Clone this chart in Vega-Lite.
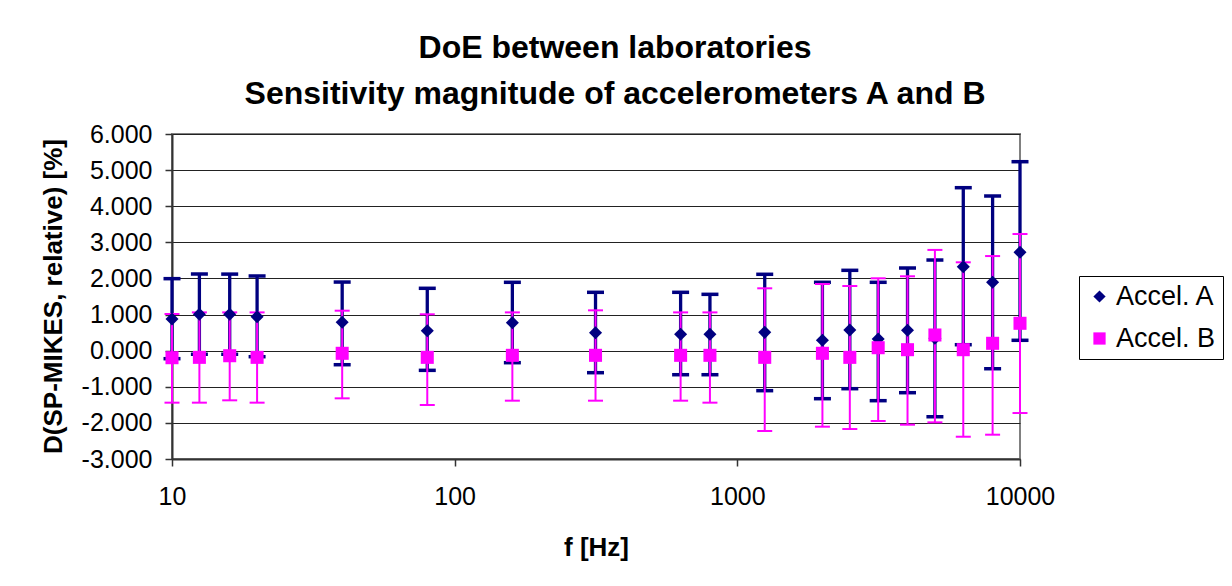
{
  "$schema": "https://vega.github.io/schema/vega-lite/v6.json",
  "width": 848,
  "height": 325,
  "autosize": {"type": "none"},
  "padding": {"left": 172, "top": 134, "right": 212, "bottom": 127},
  "background": "white",
  "title": {
    "text": ["DoE between laboratories", "Sensitivity magnitude of accelerometers A and B"],
    "font": "Liberation Sans",
    "fontSize": 32,
    "fontWeight": "bold",
    "color": "black",
    "anchor": "middle",
    "lineHeight": 46,
    "dx": 19,
    "offset": 11
  },
  "config": {
    "font": "Liberation Sans",
    "view": {"stroke": "#808080", "strokeWidth": 2},
    "tick": {"opacity": 1},
    "axis": {
      "labelFont": "Liberation Sans",
      "labelFontSize": 25,
      "labelColor": "black",
      "labelOverlap": false,
      "titleFont": "Liberation Sans",
      "titleFontSize": 26,
      "titleFontWeight": "bold",
      "titleColor": "black",
      "domainColor": "#333333",
      "domainWidth": 2,
      "tickColor": "#333333",
      "tickWidth": 1.5,
      "tickSize": 7
    },
    "legend": {
      "labelFont": "Liberation Sans",
      "labelFontSize": 27,
      "labelColor": "black"
    }
  },
  "data": {
    "values": [
      {"f": 10, "s": "Accel. A", "v": 0.877, "lo": -0.222, "hi": 1.994},
      {"f": 12.5, "s": "Accel. A", "v": 1.007, "lo": -0.1, "hi": 2.123},
      {"f": 16, "s": "Accel. A", "v": 1.007, "lo": -0.1, "hi": 2.12},
      {"f": 20, "s": "Accel. A", "v": 0.94, "lo": -0.167, "hi": 2.068},
      {"f": 40, "s": "Accel. A", "v": 0.785, "lo": -0.389, "hi": 1.9},
      {"f": 80, "s": "Accel. A", "v": 0.553, "lo": -0.545, "hi": 1.727},
      {"f": 160, "s": "Accel. A", "v": 0.775, "lo": -0.333, "hi": 1.893},
      {"f": 315, "s": "Accel. A", "v": 0.498, "lo": -0.61, "hi": 1.616},
      {"f": 630, "s": "Accel. A", "v": 0.453, "lo": -0.666, "hi": 1.616},
      {"f": 800, "s": "Accel. A", "v": 0.453, "lo": -0.666, "hi": 1.56},
      {"f": 1250, "s": "Accel. A", "v": 0.507, "lo": -1.108, "hi": 2.115},
      {"f": 2000, "s": "Accel. A", "v": 0.287, "lo": -1.33, "hi": 1.893},
      {"f": 2500, "s": "Accel. A", "v": 0.572, "lo": -1.053, "hi": 2.225},
      {"f": 3150, "s": "Accel. A", "v": 0.323, "lo": -1.385, "hi": 1.893},
      {"f": 4000, "s": "Accel. A", "v": 0.563, "lo": -1.164, "hi": 2.289},
      {"f": 5000, "s": "Accel. A", "v": 0.342, "lo": -1.83, "hi": 2.51},
      {"f": 6300, "s": "Accel. A", "v": 2.325, "lo": 0.165, "hi": 4.513},
      {"f": 8000, "s": "Accel. A", "v": 1.893, "lo": -0.5, "hi": 4.283},
      {"f": 10000, "s": "Accel. A", "v": 2.724, "lo": 0.287, "hi": 5.233},
      {"f": 10, "s": "Accel. B", "v": -0.195, "lo": -1.44, "hi": 1.015},
      {"f": 12.5, "s": "Accel. B", "v": -0.185, "lo": -1.44, "hi": 1.06},
      {"f": 16, "s": "Accel. B", "v": -0.14, "lo": -1.375, "hi": 1.06},
      {"f": 20, "s": "Accel. B", "v": -0.185, "lo": -1.44, "hi": 1.06},
      {"f": 40, "s": "Accel. B", "v": -0.073, "lo": -1.32, "hi": 1.107},
      {"f": 80, "s": "Accel. B", "v": -0.185, "lo": -1.505, "hi": 1.007},
      {"f": 160, "s": "Accel. B", "v": -0.129, "lo": -1.385, "hi": 1.06},
      {"f": 315, "s": "Accel. B", "v": -0.129, "lo": -1.385, "hi": 1.117},
      {"f": 630, "s": "Accel. B", "v": -0.129, "lo": -1.385, "hi": 1.06},
      {"f": 800, "s": "Accel. B", "v": -0.129, "lo": -1.44, "hi": 1.06},
      {"f": 1250, "s": "Accel. B", "v": -0.185, "lo": -2.225, "hi": 1.727},
      {"f": 2000, "s": "Accel. B", "v": -0.073, "lo": -2.105, "hi": 1.846},
      {"f": 2500, "s": "Accel. B", "v": -0.185, "lo": -2.17, "hi": 1.79},
      {"f": 3150, "s": "Accel. B", "v": 0.082, "lo": -1.948, "hi": 2.004},
      {"f": 4000, "s": "Accel. B", "v": 0.027, "lo": -2.05, "hi": 2.06},
      {"f": 5000, "s": "Accel. B", "v": 0.434, "lo": -1.985, "hi": 2.79},
      {"f": 6300, "s": "Accel. B", "v": 0.027, "lo": -2.383, "hi": 2.447},
      {"f": 8000, "s": "Accel. B", "v": 0.204, "lo": -2.327, "hi": 2.62},
      {"f": 10000, "s": "Accel. B", "v": 0.758, "lo": -1.727, "hi": 3.23}
    ]
  },
  "encoding": {
    "x": {
      "field": "f",
      "type": "quantitative",
      "scale": {"type": "log", "domain": [10, 10000], "nice": false},
      "axis": {
        "title": "f [Hz]",
        "values": [10, 100, 1000, 10000],
        "format": "d",
        "grid": false,
        "labelPadding": 18,
        "labelFlush": false,
        "titleBaseline": "middle",
        "titleY": 88
      }
    }
  },
  "layer": [
    {
      "transform": [{"filter": "datum.s == 'Accel. A'"}],
      "mark": {"type": "rule", "color": "#000080", "strokeWidth": 3.3},
      "encoding": {
        "y": {
          "field": "lo",
          "type": "quantitative",
          "scale": {"domain": [-3, 6], "nice": false, "zero": false},
          "axis": {
            "title": "D(SP-MIKES, relative) [%]",
            "values": [-3, -2, -1, 0, 1, 2, 3, 4, 5, 6],
            "tickCount": 10,
            "labelOverlap": false,
            "labelExpr": "replace(format(datum.value, '.3f'), '\u2212', '-')",
            "labelPadding": 13,
            "grid": true,
            "gridColor": "#222222",
            "gridWidth": 1,
            "titleX": -119,
            "titleY": 162,
            "titleAlign": "center",
            "titleBaseline": "middle",
            "titleAngle": -90
          }
        },
        "y2": {"field": "hi"}
      }
    },
    {
      "transform": [{"filter": "datum.s == 'Accel. A'"}],
      "mark": {"type": "tick", "orient": "horizontal", "color": "#000080", "opacity": 1, "size": 17, "thickness": 3.5},
      "encoding": {"y": {"field": "lo", "type": "quantitative"}}
    },
    {
      "transform": [{"filter": "datum.s == 'Accel. A'"}],
      "mark": {"type": "tick", "orient": "horizontal", "color": "#000080", "opacity": 1, "size": 17, "thickness": 3.5},
      "encoding": {"y": {"field": "hi", "type": "quantitative"}}
    },
    {
      "transform": [{"filter": "datum.s == 'Accel. B'"}],
      "mark": {"type": "rule", "color": "#FF00FF", "strokeWidth": 2},
      "encoding": {
        "y": {"field": "lo", "type": "quantitative"},
        "y2": {"field": "hi"}
      }
    },
    {
      "transform": [{"filter": "datum.s == 'Accel. B'"}],
      "mark": {"type": "tick", "orient": "horizontal", "color": "#FF00FF", "opacity": 1, "size": 15, "thickness": 2},
      "encoding": {"y": {"field": "lo", "type": "quantitative"}}
    },
    {
      "transform": [{"filter": "datum.s == 'Accel. B'"}],
      "mark": {"type": "tick", "orient": "horizontal", "color": "#FF00FF", "opacity": 1, "size": 15, "thickness": 2},
      "encoding": {"y": {"field": "hi", "type": "quantitative"}}
    },
    {
      "mark": {"type": "point", "filled": true, "opacity": 1, "size": 170},
      "encoding": {
        "y": {"field": "v", "type": "quantitative"},
        "color": {
          "field": "s",
          "type": "nominal",
          "scale": {"domain": ["Accel. A", "Accel. B"], "range": ["#000080", "#FF00FF"]},
          "legend": {
            "title": null,
            "orient": "none",
            "legendX": 907,
            "legendY": 142,
            "strokeColor": "black",
            "fillColor": "white",
            "padding": 7,
            "rowPadding": 14,
            "labelOffset": 3,
            "symbolSize": 150,
            "symbolStrokeWidth": 0,
            "labelFontSize": 27
          }
        },
        "shape": {
          "field": "s",
          "type": "nominal",
          "scale": {"domain": ["Accel. A", "Accel. B"], "range": ["diamond", "square"]},
          "legend": {
            "title": null,
            "orient": "none",
            "legendX": 907,
            "legendY": 142,
            "strokeColor": "black",
            "fillColor": "white",
            "padding": 7,
            "rowPadding": 14,
            "labelOffset": 3,
            "symbolSize": 150,
            "symbolStrokeWidth": 0,
            "labelFontSize": 27
          }
        }
      }
    }
  ]
}
